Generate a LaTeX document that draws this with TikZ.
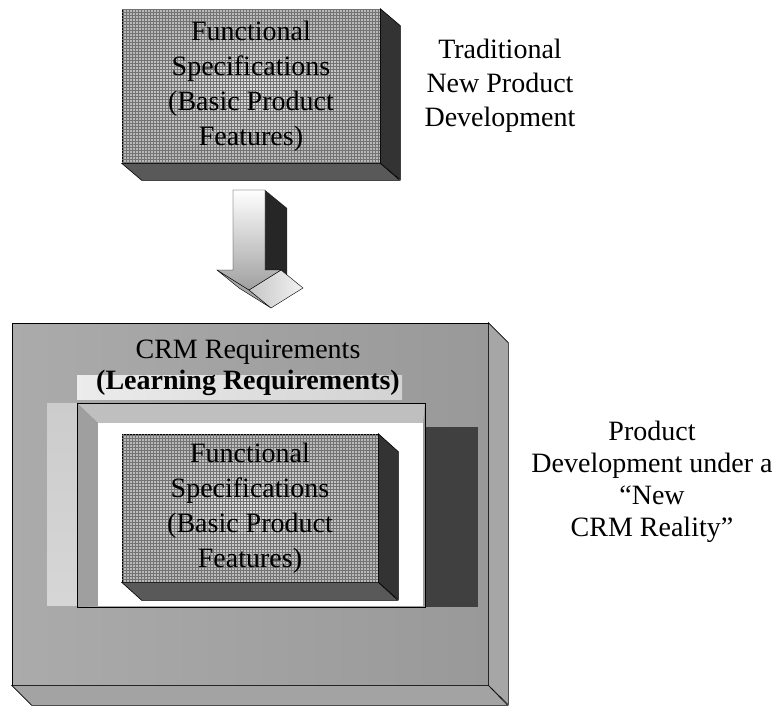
\documentclass[tikz,border=0pt]{standalone}
\usepackage{fontspec}
\setmainfont{Liberation Serif}
\usetikzlibrary{patterns, positioning}

\begin{document}
\begin{tikzpicture}[x=1pt, y=-1pt,
    front/.style={rectangle, inner sep=0pt, draw=black, line width=0.6pt},
    checked/.style={postaction={pattern=grid, pattern color=black!55}},
    side/.style={fill=black!80, draw=black, line width=0.6pt},
    base/.style={fill=black!65, draw=black, line width=0.6pt},
    boxtext/.style={align=center, font=\fontsize{28}{35}\selectfont},
    plaintext/.style={align=center, font=\fontsize{28}{32}\selectfont}]

    \useasboundingbox (0,0) rectangle (779,705);

    % traditional
    \node[front, checked, inner color=gray!25, outer color=gray!55,
          minimum width=258pt, minimum height=154pt, boxtext] (spec) at (251,86)
          {Functional\\Specifications\\(Basic Product\\Features)};
    \draw[side] (spec.north east) -- ++(20,17) -- ++(0,154) -- (spec.south east) -- cycle;
    \draw[base] (spec.south west) -- ++(20,17) -- ++(258,0) -- (spec.south east) -- cycle;
    \node[plaintext, font=\fontsize{28}{34}\selectfont] (trad) at (500,86)
          {Traditional\\New Product\\Development};

    % arrow
    \fill[black!85] (265,190) -- (287,208) -- (287,288) -- (265,270) -- cycle;
    \draw[fill=gray!70] (217,270) -- (239,288) -- (271,308) -- (249,290) -- cycle;
    \draw[left color=gray!45, right color=gray!10] (281,270) -- (303,288) -- (271,308) -- (249,290) -- cycle;
    \draw[top color=white, bottom color=gray!75] (233,190) -- (265,190) -- (265,270)
          -- (281,270) -- (249,290) -- (217,270) -- (233,270) -- cycle;

    % crm frame
    \node[front, left color=gray!66, middle color=gray!50, right color=gray!80,
          minimum width=476pt, minimum height=362pt] (crm) at (250,504) {};
    \draw[side, fill=gray!70] (crm.north east) -- ++(20,20) -- ++(0,362) -- (crm.south east) -- cycle;
    \draw[base, fill=gray!72] (crm.south west) -- ++(20,20) -- ++(476,0) -- (crm.south east) -- cycle;
    \fill[left color=gray!15, right color=gray!35] (77,375) rectangle (402,399);
    \fill[top color=gray!40, bottom color=gray!32] (47,403) rectangle (77,605);
    \fill[black!75] (425,427) rectangle (478,607);

    % window
    \fill[gray!50] (77,403) -- (425,403) -- (423,423) -- (98,423) -- cycle;
    \fill[gray!75] (77,403) -- (98,423) -- (98,606) -- (77,607) -- cycle;
    \node[rectangle, fill=white, inner sep=0pt, minimum width=325pt, minimum height=183pt]
          (window) at (260.5,514.5) {};
    \draw[line width=0.8pt] (77,403) rectangle (425,607);

    \node[front, checked, inner color=gray!25, outer color=gray!55,
          minimum width=256pt, minimum height=148pt, boxtext] (inner) at (250,508)
          {Functional\\Specifications\\(Basic Product\\Features)};
    \draw[side] (inner.north east) -- ++(20,18) -- ++(0,148) -- (inner.south east) -- cycle;
    \draw[base] (inner.south west) -- ++(20,18) -- ++(256,0) -- (inner.south east) -- cycle;

    \node[plaintext, font=\fontsize{28}{31}\selectfont] (crmtext) at (248,368)
          {CRM Requirements\\\textbf{(Learning Requirements)}};
    \node[plaintext] (reality) at (652,482)
          {Product\\Development under a\\“New\\CRM Reality”};
\end{tikzpicture}
\end{document}
